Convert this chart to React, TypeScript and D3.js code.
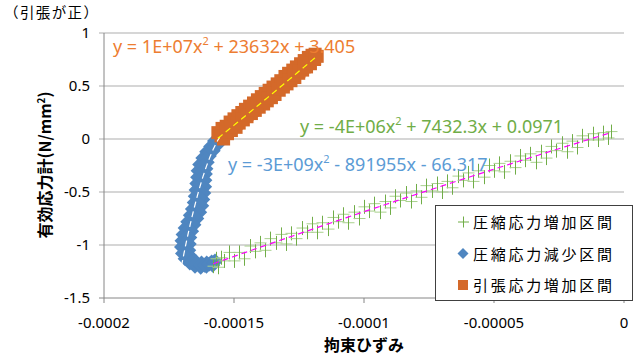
import React from "react";
import * as d3 from "d3";

const W = 636;
const H = 356;

// axis ticks
const yTicks = [1, 0.5, 0, -0.5, -1, -1.5];
const yTickLabels = ["1", "0.5", "0", "-0.5", "-1", "-1.5"];
const xTicks = [-0.0002, -0.00015, -0.0001, -0.00005, 0];
const xTickLabels = ["-0.0002", "-0.00015", "-0.0001", "-0.00005", "0"];

// [strain (x1e-6), stress N/mm2]
const greenPoints: [number, number][] = [
  [-158, -1.2], [-157, -1.13], [-156, -1.21], [-155, -1.12], [-154, -1.15],
  [-152, -1.07], [-150, -1.15], [-148, -1.07], [-146, -1.13], [-144, -1.01],
  [-142, -1.06], [-140, -0.98], [-138, -1.05], [-136, -0.94], [-134, -0.98],
  [-132, -0.9], [-130, -0.99], [-128, -0.89], [-126, -0.94], [-124, -0.84],
  [-122, -0.88], [-120, -0.8], [-118, -0.88], [-116, -0.79], [-114, -0.85],
  [-112, -0.74], [-110, -0.78], [-108, -0.71], [-106, -0.79], [-104, -0.69],
  [-102, -0.75], [-100, -0.64], [-98, -0.68], [-96, -0.61], [-94, -0.69],
  [-92, -0.59], [-90, -0.65], [-88, -0.54], [-86, -0.58], [-84, -0.51],
  [-82, -0.59], [-80, -0.49], [-78, -0.55], [-76, -0.44], [-74, -0.49],
  [-72, -0.42], [-70, -0.5], [-68, -0.4], [-66, -0.46], [-64, -0.35],
  [-62, -0.39], [-60, -0.32], [-58, -0.4], [-56, -0.3], [-54, -0.36],
  [-52, -0.25], [-50, -0.3], [-48, -0.23], [-46, -0.31], [-44, -0.21],
  [-42, -0.27], [-40, -0.16], [-38, -0.2], [-36, -0.14], [-34, -0.22],
  [-32, -0.12], [-30, -0.18], [-28, -0.07], [-26, -0.11], [-24, -0.04],
  [-22, -0.12], [-20, -0.02], [-18, -0.08], [-16, 0.03], [-14, -0.01],
  [-12, 0.05], [-10, -0.01], [-8, 0.06], [-6, 0.01], [-5, 0.07],
];

const bluePoints: [number, number][] = [
  [-155.5, -0.01], [-157.5, -0.02], [-156.5, -0.06], [-159.0, -0.07], [-158.0, -0.11],
  [-160.5, -0.12], [-159.5, -0.16], [-162.0, -0.18], [-160.3, -0.22], [-163.2, -0.24],
  [-160.8, -0.28], [-163.8, -0.3], [-161.0, -0.33], [-164.0, -0.36], [-161.2, -0.39],
  [-164.3, -0.42], [-161.3, -0.45], [-164.6, -0.48], [-161.6, -0.51], [-164.9, -0.54],
  [-162.0, -0.57], [-165.3, -0.6], [-162.4, -0.63], [-166.0, -0.66], [-163.2, -0.69],
  [-166.8, -0.72], [-164.3, -0.75], [-167.8, -0.78], [-165.4, -0.81], [-168.8, -0.84],
  [-166.3, -0.87], [-169.6, -0.9], [-167.0, -0.93], [-170.0, -0.96], [-167.2, -0.99],
  [-170.2, -1.02], [-167.4, -1.05], [-169.8, -1.08], [-167.0, -1.1], [-168.8, -1.13],
  [-166.0, -1.14], [-167.0, -1.17], [-164.5, -1.16], [-165.0, -1.2], [-162.5, -1.17],
  [-162.8, -1.21], [-160.5, -1.17], [-160.6, -1.2], [-158.6, -1.16], [-158.2, -1.19],
  [-157.3, -1.15],
  [-156.5, -0.03], [-158.0, -0.08], [-159.5, -0.13], [-160.8, -0.19], [-161.8, -0.25],
  [-162.3, -0.31], [-162.6, -0.37], [-162.8, -0.43], [-163.0, -0.49], [-163.3, -0.55],
  [-163.6, -0.61], [-164.3, -0.67], [-165.3, -0.73], [-166.3, -0.79], [-167.3, -0.85],
  [-168.0, -0.91], [-168.5, -0.97], [-168.7, -1.03], [-168.4, -1.08], [-167.8, -1.12],
  [-166.5, -1.16], [-164.8, -1.18], [-163.0, -1.19], [-161.3, -1.19], [-159.5, -1.18],
  [-157.8, -1.17],
];

const orangePoints: [number, number][] = [
  [-156.2, 0.06], [-154.0, 0.0], [-154.6, 0.1], [-152.5, 0.05], [-153.0, 0.12],
  [-151.0, 0.08], [-151.5, 0.16], [-149.2, 0.11], [-150.0, 0.19], [-148.0, 0.15],
  [-148.5, 0.22], [-146.4, 0.18], [-147.0, 0.25], [-145.0, 0.21], [-145.6, 0.28],
  [-143.3, 0.24], [-144.0, 0.31], [-141.8, 0.27], [-142.5, 0.34], [-140.3, 0.3],
  [-141.0, 0.37], [-138.6, 0.33], [-139.5, 0.4], [-137.2, 0.36], [-138.0, 0.43],
  [-135.6, 0.39], [-136.5, 0.46], [-134.2, 0.42], [-135.0, 0.49], [-132.6, 0.46],
  [-133.4, 0.52], [-131.0, 0.49], [-132.0, 0.55], [-129.6, 0.52], [-130.4, 0.59],
  [-128.1, 0.55], [-129.0, 0.62], [-126.6, 0.58], [-127.4, 0.65], [-125.1, 0.62],
  [-126.0, 0.68], [-123.6, 0.65], [-124.4, 0.71], [-122.1, 0.68], [-123.0, 0.74],
  [-120.6, 0.71], [-121.4, 0.77], [-119.0, 0.75], [-120.0, 0.79], [-118.0, 0.78],
  [-118.8, 0.8],
  [-155, 0.03], [-153, 0.07], [-151, 0.11], [-149, 0.15], [-147, 0.19],
  [-145, 0.23], [-143, 0.27], [-141, 0.31], [-139, 0.35], [-137, 0.39],
  [-135, 0.43], [-133, 0.47], [-131, 0.515], [-129, 0.555], [-127, 0.6],
  [-125, 0.64], [-123, 0.68], [-121, 0.72], [-119, 0.76],
];

// quadratic trendline coefficients [a, b, c] : y = a x^2 + b x + c
const greenFit = [-4e6, 7432.3, 0.0971];
const blueFit = [-2.9927e9, -891955, -66.317];
const orangeFit = [1.2e7, 23632, 3.405];

const legendLabels = ["圧縮応力増加区間", "圧縮応力減少区間", "引張応力増加区間"];

const GREEN = "#70AD47";
const GREEN_LIGHT = "#A9D18E";
const BLUE = "#4F86C0";
const ORANGE = "#D4692A";
const LATIN = "'Noto Sans', 'Open Sans', sans-serif";
const CJK = "'Noto Sans CJK JP', sans-serif";

const x = d3.scaleLinear().domain([-0.0002, 0]).range([104, 624]);
const y = d3.scaleLinear().domain([-1.5, 1]).range([298, 33]);

const sx = (u: number) => x(u * 1e-6);

const trendPath = (pts: [number, number][], fit: number[]) => {
  const ext = d3.extent(pts, (d) => d[0] * 1e-6) as [number, number];
  const xs = d3.range(ext[0], ext[1], (ext[1] - ext[0]) / 60).concat([ext[1]]);
  return d3
    .line<number>()
    .x((v) => x(v))
    .y((v) => y(fit[0] * v * v + fit[1] * v + fit[2]))(xs) as string;
};

const diamond = (cx: number, cy: number, r = 7.5) =>
  `M${cx},${cy - r}L${cx + r},${cy}L${cx},${cy + r}L${cx - r},${cy}Z`;

export default function App() {
  return (
    <svg
      width={W}
      height={H}
      style={{ position: "absolute", left: 0, top: 0, background: "#fff" }}
    >
      {/* gridlines */}
      {yTicks.slice(0, 5).map((t) => (
        <line key={t} x1={99} x2={624} y1={y(t)} y2={y(t)} stroke="#ADADAD" strokeWidth={1} />
      ))}
      {/* axes */}
      <line x1={104} x2={104} y1={33} y2={298} stroke="#868686" />
      <line x1={99} x2={624} y1={298} y2={298} stroke="#868686" />
      {xTicks.map((t) => (
        <line key={t} x1={x(t)} x2={x(t)} y1={298} y2={303} stroke="#868686" />
      ))}
      {yTicks.map((t, i) => (
        <text key={t} x={90} y={y(t) + 5} textAnchor="end" fontFamily={LATIN} fontSize={15} fill="#000">
          {yTickLabels[i]}
        </text>
      ))}
      {xTicks.map((t, i) => (
        <text key={t} x={x(t)} y={328} textAnchor="middle" fontFamily={LATIN} fontSize={15} fill="#000">
          {xTickLabels[i]}
        </text>
      ))}

      {/* series */}
      <g fill={BLUE}>
        {bluePoints.map((d, i) => (
          <path key={i} d={diamond(sx(d[0]), y(d[1]))} />
        ))}
      </g>
      <g fill={ORANGE}>
        {orangePoints.map((d, i) => (
          <rect key={i} x={sx(d[0]) - 6.5} y={y(d[1]) - 6.5} width={13} height={13} />
        ))}
      </g>
      <g strokeWidth={1} fill="none">
        {greenPoints.map((d, i) => {
          const cx = Math.round(sx(d[0])) + 0.5;
          const cy = y(d[1]);
          return (
            <g key={i}>
              <path d={`M${cx - 6},${cy}h12`} stroke={GREEN_LIGHT} />
              <path d={`M${cx},${cy - 7}v14`} stroke={GREEN} />
            </g>
          );
        })}
      </g>

      {/* trendlines */}
      <path d={trendPath(bluePoints, blueFit)} stroke="#fff" strokeWidth={1.2} strokeDasharray="6,4" fill="none" />
      <path d={trendPath(orangePoints, orangeFit)} stroke="#FFFF00" strokeWidth={1.2} strokeDasharray="6,4" fill="none" />
      <path d={trendPath(greenPoints, greenFit)} stroke="#FF00FF" strokeWidth={1.2} strokeDasharray="6,4" fill="none" />

      {/* equations */}
      <text x={113} y={53} fontFamily={LATIN} fontSize={18} fill="#ED7D31">
        y = 1E+07x<tspan dy={-8} fontSize={11}>2</tspan>
        <tspan dy={8}> + 23632x + 3.405</tspan>
      </text>
      <text x={300} y={133} fontFamily={LATIN} fontSize={18} fill={GREEN}>
        y = -4E+06x<tspan dy={-8} fontSize={11}>2</tspan>
        <tspan dy={8}> + 7432.3x + 0.0971</tspan>
      </text>
      <text x={228} y={171} fontFamily={LATIN} fontSize={18} fill="#5B9BD5">
        y = -3E+09x<tspan dy={-8} fontSize={11}>2</tspan>
        <tspan dy={8}> - 891955x - 66.317</tspan>
      </text>

      {/* titles */}
      <text x={4} y={18} fontFamily={CJK} fontSize={14.5} textLength={94} lengthAdjust="spacing" fill="#000">
        （引張が正）
      </text>
      <text
        transform="translate(51,165) rotate(-90)"
        textAnchor="middle"
        fontFamily={CJK}
        fontSize={16}
        fontWeight="bold"
        fill="#000"
      >
        有効応力計(N/mm<tspan dy={-6} fontSize={10}>2</tspan>
        <tspan dy={6}>)</tspan>
      </text>
      <text x={364} y={351} textAnchor="middle" fontFamily={CJK} fontSize={16} fontWeight="bold" fill="#000">
        拘束ひずみ
      </text>

      {/* legend */}
      <rect x={435.5} y={205.5} width={197} height={95} fill="#fff" stroke="#404040" />
      {legendLabels.map((lab, i) => {
        const cy = 222 + i * 31.5;
        return (
          <g key={lab}>
            {i === 0 && (
              <path d={`M458,${cy}h11M463.5,${cy - 5.5}v11`} stroke={GREEN} fill="none" />
            )}
            {i === 1 && <path d={diamond(463, cy, 5.5)} fill={BLUE} />}
            {i === 2 && <rect x={458} y={cy - 5} width={10} height={10} fill={ORANGE} />}
            <text x={473} y={cy + 6} fontFamily={CJK} fontSize={15} textLength={139} lengthAdjust="spacing" fill="#000">
              {lab}
            </text>
          </g>
        );
      })}
    </svg>
  );
}
